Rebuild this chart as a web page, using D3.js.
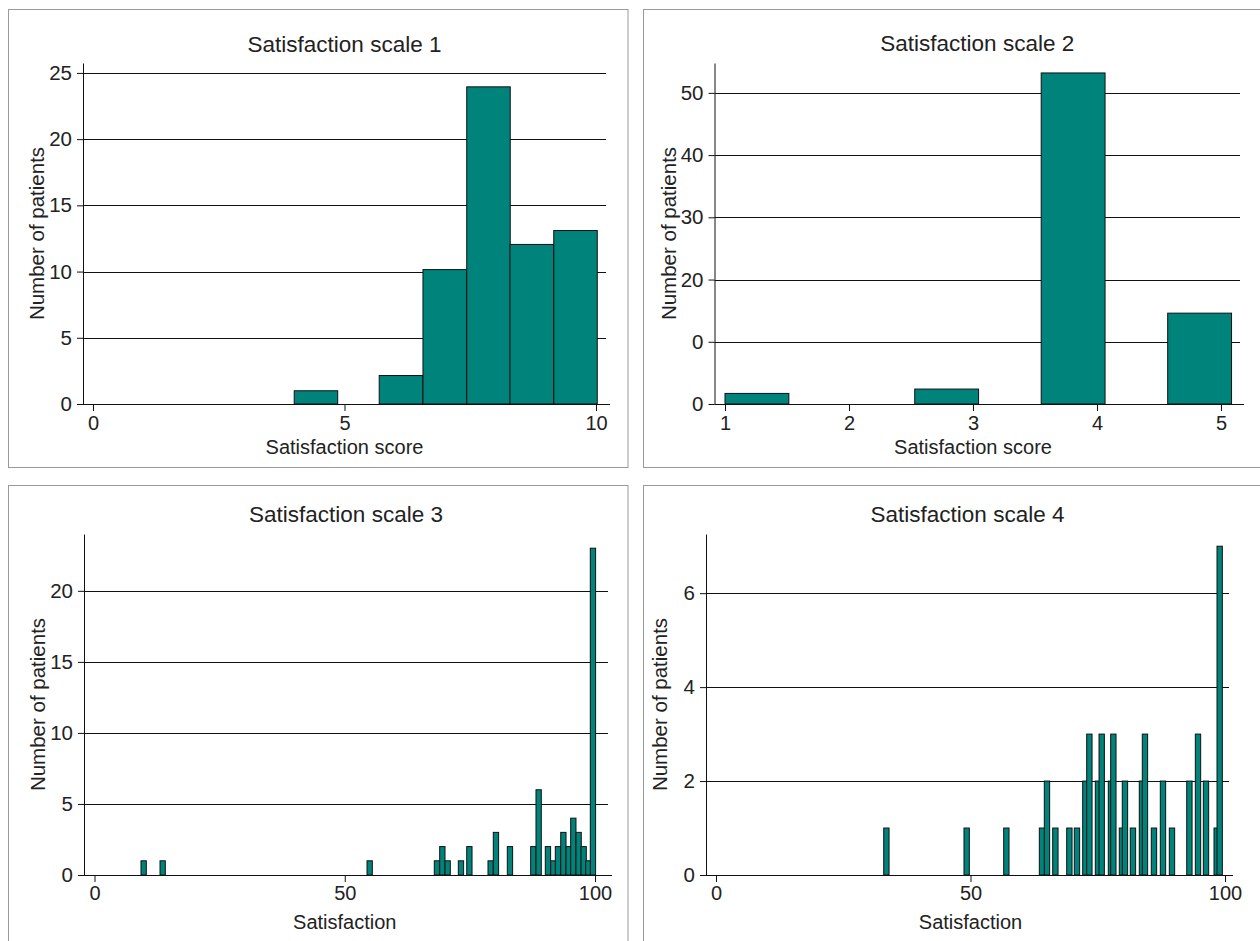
<!DOCTYPE html>
<meta charset="utf-8">
<head>
    <title>Satisfaction scales</title>
</head>
<style>
    body { margin: 0; background: #fff; }
    svg text { font-family: "Liberation Sans", Arial, sans-serif; fill: #222; }
</style>

<div id="chart"></div>

<script src="https://d3js.org/d3.v7.min.js"></script>
<script>

    // values
    var scale1Lo    = [4.0, 5.69, 6.56, 7.43, 8.29, 9.16];
    var scale1Count = [1, 2.15, 10.15, 23.95, 12.05, 13.1];
    var scale1Width = 0.865;
    var scale1XTicks = [0, 5, 10];
    var scale1YTicks = [0, 5, 10, 15, 20, 25];

    var scale2Lo    = [1.0, 2.53, 3.55, 4.57];
    var scale2Count = [1.7, 2.4, 53.2, 14.6];
    var scale2Width = 0.515;
    var scale2XTicks = [1, 2, 3, 4, 5];
    var scale2YTicks = [0, 10, 20, 30, 40, 50];
    var scale2YLabels = ["0", "0", "20", "30", "40", "50"];   // as printed

    var scale3Lo    = [9.29, 13.09, 54.45, 67.89, 68.97, 70.03, 72.69, 74.37, 78.62, 79.68, 82.48,
                       87.15, 88.21, 90.07, 91.15, 92.07, 93.15, 94.21, 95.14, 96.20, 97.20, 98.14, 99.06];
    var scale3Count = [1, 1, 1, 1, 2, 1, 1, 2, 1, 3, 2,
                       2, 6, 2, 1, 2, 3, 2, 4, 3, 2, 1, 23];
    var scale3Width = 1.06;
    var scale3XTicks = [0, 50, 100];
    var scale3YTicks = [0, 5, 10, 15, 20];

    var scale4Lo    = [32.95, 48.72, 56.52, 63.52, 64.50, 66.15, 68.90, 70.39, 72.04, 72.83, 74.52,
                       75.25, 77.07, 77.54, 79.23, 79.82, 81.39, 83.16, 83.75, 85.52, 87.29, 89.06,
                       92.48, 94.17, 95.74, 97.84, 98.43];
    var scale4Count = [1, 1, 1, 1, 2, 1, 1, 1, 2, 3, 2,
                       3, 2, 3, 1, 2, 1, 2, 3, 1, 2, 1,
                       2, 3, 2, 1, 7];
    var scale4Width = 1.05;
    var scale4XTicks = [0, 50, 100];
    var scale4YTicks = [0, 2, 4, 6];

    var panels = [
        { title: "Satisfaction scale 1", xTitle: "Satisfaction score",
          lo: scale1Lo, n: scale1Count, w: scale1Width, xTicks: scale1XTicks, yTicks: scale1YTicks,
          box: [8.5, 9.5, 619.5, 458], axisX: 83, base: 404, top: 63, yTop: 25.75,
          xDom: [0, 10], xRange: [93, 596], right: 606, titleY: 52, pad: 5, xTitleY: 454 },
        { title: "Satisfaction scale 2", xTitle: "Satisfaction score",
          lo: scale2Lo, n: scale2Count, w: scale2Width, xTicks: scale2XTicks, yTicks: scale2YTicks,
          yLabels: scale2YLabels,
          box: [643.5, 9.5, 640, 458], axisX: 714.5, base: 404, top: 63, yTop: 54.8,
          xDom: [1, 5], xRange: [725, 1221], right: 1240, titleY: 51, pad: 5, xTitleY: 454 },
        { title: "Satisfaction scale 3", xTitle: "Satisfaction",
          lo: scale3Lo, n: scale3Count, w: scale3Width, xTicks: scale3XTicks, yTicks: scale3YTicks,
          box: [8.5, 485.5, 619.5, 480], axisX: 84, base: 875, top: 534, yTop: 24,
          xDom: [0, 100], xRange: [94.5, 595], right: 608, titleY: 522, pad: 4, xTitleY: 929 },
        { title: "Satisfaction scale 4", xTitle: "Satisfaction",
          lo: scale4Lo, n: scale4Count, w: scale4Width, xTicks: scale4XTicks, yTicks: scale4YTicks,
          box: [643.5, 485.5, 640, 480], axisX: 706, base: 875, top: 534, yTop: 7.26,
          xDom: [0, 100], xRange: [716, 1225], right: 1229, titleY: 522, pad: 4, xTitleY: 929 }
    ];

    var svg = d3.select("#chart")
      .append("svg")
        .attr("width", 1260)
        .attr("height", 941);

    svg.append("rect")
        .attr("width", 1260).attr("height", 941)
        .attr("fill", "#fff");

    panels.forEach(function(p) {
        var g = svg.append("g");

        // panel frame
        g.append("rect")
            .attr("x", p.box[0]).attr("y", p.box[1])
            .attr("width", p.box[2]).attr("height", p.box[3])
            .attr("fill", "none")
            .attr("stroke", "#9a9a9a")
            .attr("stroke-width", 1);

        var x = d3.scaleLinear().domain(p.xDom).range(p.xRange);
        var y = d3.scaleLinear().domain([0, p.yTop]).range([p.base, p.top]);

        // grid lines
        g.selectAll(".grid")
          .data(p.yTicks.filter(function(d) { return d > 0; }))
          .enter().append("line")
            .attr("x1", p.axisX).attr("x2", p.right)
            .attr("y1", function(d) { return Math.round(y(d)) + 0.5; })
            .attr("y2", function(d) { return Math.round(y(d)) + 0.5; })
            .attr("stroke", "#111")
            .attr("stroke-width", 1);

        // bars
        g.selectAll(".bar")
          .data(p.lo.map(function(d, i) { return { lo: d, n: p.n[i] }; }))
          .enter().append("rect")
            .attr("x", function(d) { return x(d.lo); })
            .attr("y", function(d) { return y(d.n); })
            .attr("width", function(d) { return x(d.lo + p.w) - x(d.lo); })
            .attr("height", function(d) { return y(0) - y(d.n); })
            .attr("fill", "#00837a")
            .attr("stroke", "#111")
            .attr("stroke-width", 1);

        // baseline
        g.append("line")
            .attr("x1", p.axisX).attr("x2", p.right + 4)
            .attr("y1", Math.round(p.base) + 0.5).attr("y2", Math.round(p.base) + 0.5)
            .attr("stroke", "#111");

        // y axis
        var yAxis = d3.axisLeft(y)
            .tickValues(p.yTicks)
            .tickSize(6)
            .tickSizeOuter(0)
            .tickPadding(5);
        if (p.yLabels) yAxis.tickFormat(function(d, i) { return p.yLabels[i]; });
        var ya = g.append("g")
            .attr("transform", "translate(" + p.axisX + ",0)")
            .call(yAxis);
        ya.selectAll("text")
            .attr("font-size", 20.5)
            .attr("font-family", null);
        ya.selectAll("line, path").attr("stroke", "#111");

        // x axis (ticks and labels only)
        var xa = g.append("g")
            .attr("transform", "translate(0," + p.base + ")")
            .call(d3.axisBottom(x).tickValues(p.xTicks).tickFormat(d3.format("d"))
                .tickSize(7).tickPadding(p.pad));
        xa.select(".domain").remove();
        xa.selectAll("line").attr("stroke", "#111");
        xa.selectAll("text")
            .attr("font-size", 20)
            .attr("font-family", null);

        // titles
        g.append("text")
            .attr("x", (p.axisX + p.right) / 2)
            .attr("y", p.titleY)
            .attr("text-anchor", "middle")
            .attr("font-size", 22.5)
            .text(p.title);

        g.append("text")
            .attr("x", x((p.xDom[0] + p.xDom[1]) / 2))
            .attr("y", p.xTitleY)
            .attr("text-anchor", "middle")
            .attr("font-size", 20)
            .text(p.xTitle);

        g.append("text")
            .attr("transform", "translate(" + (p.axisX - 39) + "," + ((p.base + p.top) / 2) + ") rotate(-90)")
            .attr("text-anchor", "middle")
            .attr("font-size", 20.5)
            .text("Number of patients");
    });
</script>
